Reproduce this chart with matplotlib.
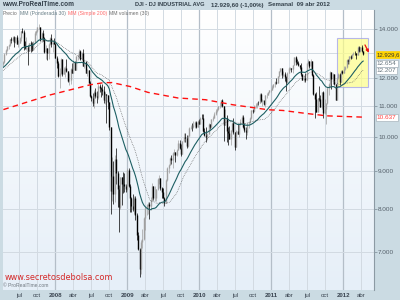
import numpy as np
import pandas as pd
import matplotlib
matplotlib.use('Agg')
import matplotlib.pyplot as plt
import matplotlib.dates as mdates
from matplotlib.patches import Rectangle, FancyArrowPatch
import matplotlib.transforms as mtransforms
from matplotlib.colors import LinearSegmentedColormap

# ---------------- data (weekly DJI) ----------------
warmup_close = [11560, 11508, 11679, 11867, 11961, 12002, 12090, 12032, 12108, 12343,
                12281, 12194, 12307, 12445, 12343, 12463, 12398, 12556, 12565, 12487,
                12654, 12580, 12768, 12647, 12114, 12276, 12110, 12481, 12354, 12560]

close_2007 = [12612, 12961, 13121, 13265, 13327, 13556, 13507, 13668, 13424, 13639,
              13361, 13409, 13612, 13908, 13851, 13266, 13182, 13240, 13079, 13379,
              13358, 13113, 13443, 13821, 13896, 14066, 14093, 13523, 13807, 13596,
              13043, 13177, 12981, 13372, 13626, 13340, 13451, 13366]
high_2007 = [12650, 12970, 13160, 13290, 13370, 13560, 13630, 13690, 13680, 13670,
             13720, 13530, 13650, 13920, 14020, 13960, 13500, 13660, 13300, 13400,
             13490, 13450, 13490, 13900, 13960, 14090, 14200, 14100, 13870, 13950,
             13660, 13320, 13180, 13400, 13650, 13780, 13460, 13620]
low_2007 = [12480, 12570, 12900, 13060, 13130, 13280, 13400, 13460, 13250, 13390,
            13350, 13250, 13390, 13490, 13830, 13120, 13150, 13120, 12520, 13060,
            13020, 13080, 13090, 13400, 13720, 13850, 13990, 13500, 13450, 13480,
            13000, 12750, 12720, 12740, 13300, 13250, 13020, 13340]

close_2008 = [12801, 12607, 12100, 12207, 12743, 12183, 12348, 12381, 12266, 11894,
              11951, 12361, 12216, 12610, 12325, 12849, 12891, 13058, 12745, 12986,
              12480, 12638, 12209, 12307, 11843, 11347, 11289, 11100, 11496, 11370,
              11326, 11734, 11659, 11628, 11544, 11220, 11422, 11388, 11143, 10325,
              8451, 8852, 8378, 9325, 8943, 8497, 8046, 8829, 8635, 8629,
              8579, 8515]
high_2008 = [13380, 12880, 12650, 12400, 12770, 12740, 12450, 12480, 12760, 12290,
             12210, 12400, 12600, 12650, 12650, 12860, 12940, 13130, 13100, 13020,
             13140, 12700, 12680, 12350, 12320, 11900, 11410, 11480, 11560, 11640,
             11540, 11780, 11810, 11680, 11790, 11720, 11500, 11430, 11400, 11150,
             10330, 9390, 9270, 9460, 9650, 9000, 8600, 8840, 8830, 8960,
             8950, 8640]
low_2008 = [12780, 12400, 12050, 11630, 12150, 12100, 12160, 12070, 12240, 11850,
            11740, 11800, 12200, 12200, 12300, 12300, 12700, 12780, 12720, 12700,
            12460, 12410, 12190, 12080, 11830, 11330, 11200, 11000, 10960, 11300,
            11100, 11250, 11500, 11320, 11390, 11100, 11090, 10460, 10900, 10230,
            7880, 8200, 8130, 8170, 8650, 8050, 7450, 8000, 8100, 8400,
            8420, 8420]

close_2009 = [9034, 8599, 8281, 8077, 8001, 8280, 7850, 7366, 7063, 6627,
              7224, 7279, 7776, 8018, 8083, 8131, 8076, 8212, 8575, 8268,
              8277, 8500, 8764, 8799, 8539, 8438, 8280, 8146, 8743, 9093,
              9172, 9370, 9321, 9505, 9544, 9441, 9605, 9820, 9665, 9488,
              9865, 9996, 9972, 9713, 10023, 10270, 10318, 10310, 10389, 10471,
              10329, 10520]
high_2009 = [9070, 9090, 8650, 8290, 8380, 8320, 8320, 7900, 7450, 7080,
             7250, 7500, 7800, 8080, 8110, 8160, 8160, 8300, 8660, 8580,
             8590, 8510, 8800, 8880, 8800, 8570, 8530, 8300, 8780, 9100,
             9200, 9400, 9450, 9540, 9630, 9550, 9640, 9920, 9920, 9790,
             9890, 10120, 10120, 10070, 10050, 10310, 10380, 10460, 10510, 10510,
             10520, 10540]
low_2009 = [8460, 8550, 7910, 7910, 7950, 7880, 7720, 7250, 7030, 6470,
            6520, 7090, 7250, 7480, 7850, 7880, 7750, 7980, 8200, 8210,
            8200, 8190, 8490, 8640, 8480, 8260, 8270, 8080, 8140, 8720,
            8950, 9170, 9200, 9080, 9470, 9250, 9420, 9600, 9640, 9430,
            9480, 9850, 9860, 9670, 9680, 10020, 10260, 10180, 10270, 10280,
            10300, 10330]

close_2010 = [10428, 10618, 10610, 10173, 10067, 10012, 10099, 10402, 10325, 10566,
              10625, 10742, 10850, 10927, 10997, 11019, 11204, 11009, 10380, 10620,
              10193, 10137, 9932, 10212, 10450, 10144, 9686, 10198, 10098, 10425,
              10466, 10654, 10303, 10214, 10151, 10448, 10462, 10608, 10861, 10830,
              11006, 11063, 11133, 11118, 11445, 11193, 11204, 11092, 11382, 11411,
              11492, 11573, 11578]
high_2010 = [10590, 10630, 10730, 10730, 10300, 10310, 10140, 10430, 10420, 10580,
             10660, 10800, 10900, 10940, 11010, 11150, 11210, 11260, 11020, 10900,
             10700, 10330, 10340, 10230, 10480, 10600, 10150, 10210, 10400, 10450,
             10590, 10720, 10700, 10450, 10320, 10460, 10500, 10650, 10870, 10900,
             11030, 11100, 11150, 11170, 11450, 11450, 11240, 11200, 11390, 11460,
             11500, 11580, 11600]
low_2010 = [10420, 10430, 10570, 10160, 10030, 9840, 9920, 10090, 10250, 10320,
            10520, 10610, 10720, 10820, 10880, 10960, 10990, 10990, 9870, 10380,
            9840, 9760, 9930, 9760, 10200, 10100, 9610, 9680, 10090, 9990,
            10370, 10460, 10280, 10170, 9940, 10050, 10300, 10440, 10580, 10760,
            10800, 10960, 10930, 11050, 11100, 11150, 11000, 11030, 10990, 11300,
            11380, 11460, 11510]

close_2011 = [11675, 11787, 11872, 11824, 12092, 12273, 12391, 12130, 12170, 12044,
              11859, 12221, 12377, 12380, 12342, 12506, 12811, 12639, 12596, 12512,
              12442, 12152, 11952, 12004, 11934, 12583, 12657, 12480, 12681, 12143,
              11445, 11270, 10818, 11285, 11240, 10992, 11509, 10772, 10913, 11103,
              11644, 11809, 12231, 11983, 12153, 11796, 11231, 12020, 12184, 11867,
              12294, 12218]
high_2011 = [11750, 11800, 11900, 12000, 12100, 12280, 12400, 12390, 12290, 12250,
             12080, 12250, 12420, 12450, 12400, 12520, 12820, 12880, 12760, 12650,
             12520, 12570, 12160, 12110, 12190, 12600, 12750, 12650, 12750, 12680,
             12170, 11450, 11500, 11300, 11720, 11400, 11520, 11550, 11240, 11110,
             11680, 11830, 12290, 12230, 12200, 12150, 11800, 12070, 12200, 12190,
             12300, 12300]
low_2011 = [11580, 11630, 11700, 11800, 11820, 12050, 12250, 12020, 12050, 11920,
            11550, 11840, 12200, 12300, 12230, 12200, 12500, 12500, 12550, 12460,
            12340, 12100, 11930, 11860, 11870, 11930, 12560, 12380, 12300, 12100,
            11380, 10600, 10800, 10820, 11180, 10980, 10910, 10600, 10750, 10400,
            11090, 11400, 11700, 11600, 11780, 11740, 11230, 11230, 11960, 11740,
            11860, 12150]

close_2012 = [12360, 12422, 12720, 12660, 12862, 12801, 12950, 12983, 12978, 12922,
              13233, 13081, 13212, 13060, 12930]
high_2012 = [12480, 12490, 12740, 12760, 12870, 12900, 12960, 13010, 13060, 12980,
             13260, 13290, 13220, 13300, 13060]
low_2012 = [12210, 12300, 12410, 12560, 12560, 12730, 12770, 12890, 12920, 12740,
            12920, 13040, 13010, 13040, 12920]

ma200_dates = ['2007-04-13', '2007-08-01', '2007-12-07', '2008-03-20', '2008-06-27',
               '2008-09-01', '2008-10-15', '2009-01-15', '2009-04-15', '2009-09-15',
               '2010-02-01', '2010-06-20', '2010-12-15', '2011-03-01', '2011-06-15',
               '2011-10-10', '2012-04-13']
ma200_vals = [10890, 11125, 11400, 11585, 11765, 11840, 11845, 11700, 11490, 11290,
              11230, 11055, 10885, 10860, 10770, 10680, 10637]

y_ticks = [7000, 8000, 9000, 10000, 11000, 12000, 14000]
y_tick_labels = ['7.000', '8.000', '9.000', '10.000', '11.000', '12.000', '14.000']
y_grid = [7000, 8000, 9000, 10000, 11000, 12000, 13000, 14000]
x_tick_labels = ['jul', 'oct', '2008', 'abr', 'jul', 'oct', '2009', 'abr', 'jul', 'oct',
                 '2010', 'abr', 'jul', 'oct', '2011', 'abr', 'jul', 'oct', '2012', 'abr']
x_tick_dates = ['2007-07-01', '2007-10-01', '2008-01-01', '2008-04-01', '2008-07-01',
                '2008-10-01', '2009-01-01', '2009-04-01', '2009-07-01', '2009-10-01',
                '2010-01-01', '2010-04-01', '2010-07-01', '2010-10-01', '2011-01-01',
                '2011-04-01', '2011-07-01', '2011-10-01', '2012-01-01', '2012-04-01']

# ---------------- assemble ----------------
close = close_2007 + close_2008 + close_2009 + close_2010 + close_2011 + close_2012
high = np.array(high_2007 + high_2008 + high_2009 + high_2010 + high_2011 + high_2012, float)
low = np.array(low_2007 + low_2008 + low_2009 + low_2010 + low_2011 + low_2012, float)
all_close = np.array(warmup_close + close, float)
n0 = len(warmup_close)
dates_all = pd.date_range('2006-09-15', periods=len(all_close), freq='W-FRI') - pd.Timedelta(days=2)
dates = dates_all[n0:]
c = all_close[n0:]
o = all_close[n0 - 1:-1]

s = pd.Series(all_close)
w = np.arange(1, 31, dtype=float)
wma = s.rolling(30).apply(lambda a: np.dot(a, w) / w.sum(), raw=True).values[n0:]
sma = s.rolling(30).mean().values[n0:]

# ---------------- figure ----------------
BG = '#cbdbe3'
fig = plt.figure(figsize=(4, 3), dpi=100)
fig.patch.set_facecolor(BG)
ax = fig.add_axes([3 / 400, 10 / 300, 371 / 400, 280 / 300])
ax.set_yscale('log')
ax.set_ylim(6213, 14845)
x0 = mdates.date2num(pd.Timestamp('2007-04-11'))
x1 = mdates.date2num(pd.Timestamp('2012-06-05'))
ax.set_xlim(x0, x1)

grad = np.linspace(0, 1, 100).reshape(-1, 1)
cm = LinearSegmentedColormap.from_list('g', ['#ffffff', '#e6eff8'])
ax.imshow(grad, extent=[0, 1, 0, 1], transform=ax.transAxes, cmap=cm, aspect='auto', zorder=0)

# grid
for i, d in enumerate(x_tick_dates):
    is_year = x_tick_labels[i].isdigit()
    ax.axvline(mdates.date2num(pd.Timestamp(d)), color='#b4bec8' if is_year else '#d2dae2',
               lw=0.9 if is_year else 0.7, zorder=1)
for v in y_grid:
    ax.axhline(v, color='#d2dae2', lw=0.7, zorder=1)

# candles
xd = mdates.date2num(dates)
up = c >= o
cols = np.where(up, '#a0a0a0', '#000000')
ax.vlines(xd, low, high, colors=cols, lw=0.5, zorder=3)
ax.vlines(xd, np.minimum(o, c), np.maximum(o, c), colors=cols, lw=1.0, zorder=3)

# moving averages
ax.plot(xd, wma, color='#1d5f63', lw=0.8, zorder=4)
ax.plot(xd, sma, color='#555555', lw=0.5, ls=(0, (1, 1.5)), zorder=4)
ax.plot(mdates.date2num(pd.to_datetime(ma200_dates)), ma200_vals, color='#ff1010', lw=1.0,
        ls=(0, (4, 3)), zorder=4)

# highlight box & arrow
rx0 = mdates.date2num(pd.Timestamp('2011-12-01'))
rx1 = mdates.date2num(pd.Timestamp('2012-05-07'))
ax.add_patch(Rectangle((rx0, 11690), rx1 - rx0, 13610 - 11690, facecolor='#ffff88', alpha=0.7,
                       edgecolor='#9a9af0', lw=0.8, zorder=2))
ax.add_patch(FancyArrowPatch((mdates.date2num(pd.Timestamp('2012-04-14')), 13420),
                             (mdates.date2num(pd.Timestamp('2012-05-16')), 12900),
                             arrowstyle='-|>', mutation_scale=4, color='#ee1111', lw=0.9, zorder=6))

# axes styling
for sp in ['left', 'top', 'bottom']:
    ax.spines[sp].set_visible(False)
ax.spines['right'].set_color('#8c9aa4')
ax.spines['right'].set_linewidth(0.8)
ax.yaxis.tick_right()
ax.set_yticks(y_ticks)
ax.set_yticklabels(y_tick_labels)
ax.yaxis.set_minor_locator(matplotlib.ticker.NullLocator())
ax.tick_params(axis='y', which='major', length=2.5, width=0.5, color='#7a8a94', pad=0.5,
               labelsize=4.6, labelcolor='#55606a')
ax.set_xticks([mdates.date2num(pd.Timestamp(d)) for d in x_tick_dates])
ax.set_xticklabels(x_tick_labels)
ax.tick_params(axis='x', length=0, pad=2.2, labelsize=4.4, labelcolor='#3a4450')
for lab in ax.get_xticklabels():
    if lab.get_text().isdigit():
        lab.set_fontweight('bold')
for lab in ax.get_xticklabels() + ax.get_yticklabels():
    lab.set_fontfamily('Liberation Sans')

# right value labels
tr = mtransforms.blended_transform_factory(ax.transAxes, ax.transData)
def vlabel(y, txt, fc, tc, ec, fs=4.6):
    ax.text(1.008, y, txt, transform=tr, fontsize=fs, color=tc, va='center', ha='left',
            family='Liberation Sans', clip_on=False, zorder=10,
            bbox=dict(boxstyle='square,pad=0.15', fc=fc, ec=ec, lw=0.5))
vlabel(c[-1], '12.929,6', '#ffd400', '#333333', '#ffd400', fs=4.3)
vlabel(wma[-1] * 0.992, '12.654', '#ffffff', '#6a7880', '#a8b4bc')
vlabel(sma[-1] * 1.0, '12.207', '#ffffff', '#6a7880', '#a8b4bc')
vlabel(ma200_vals[-1], '10.637', '#ffffff', '#ff4040', '#a8b4bc')

# title bar
def ft(xp, yp, s, **kw):
    fig.text(xp / 400, 1 - yp / 300, s, va='center', family='Liberation Sans', **kw)
ft(2, 5, 'www.ProRealTime.com', fontsize=4.7, fontweight='bold', color='#33404a')
ft(135, 5, 'DJI - DJ INDUSTRIAL AVG', fontsize=4.1, fontweight='bold', color='#33404a')
ft(211, 5, '12.929,60 (-1,00%)', fontsize=4.4, fontweight='bold', color='#33404a')
ft(268, 5, 'Semanal  09 abr 2012', fontsize=4.4, fontweight='bold', color='#33404a')

# legend row
ft(3, 13.5, 'Precio', fontsize=3.7, color='#707070')
ft(20, 13.5, 'MM (Ponderada 30)', fontsize=3.7, color='#6a8088')
ft(68, 13.5, 'MM (Simple 200)', fontsize=3.7, color='#ff6a6a')
ft(109, 13.5, 'MM volumen (30)', fontsize=3.7, color='#707070')

# watermarks
fig.text(5 / 400, 1 - 277 / 300, 'www.secretosdebolsa.com', fontsize=5.9, color='#d42828',
         family='DejaVu Sans', va='center')
ft(3, 285.5, '\u00a9 ProRealTime.com', fontsize=3.6, color='#707880')

fig.savefig('out.png', dpi=100, facecolor=BG)
